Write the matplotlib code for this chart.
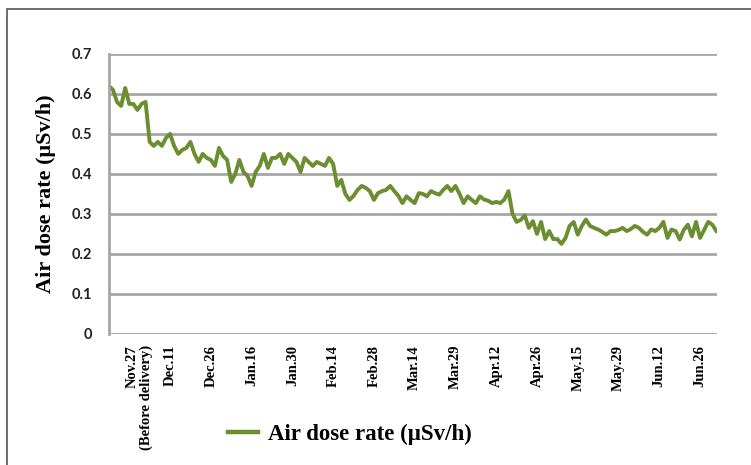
import numpy as np
import matplotlib
matplotlib.use("Agg")
import matplotlib.pyplot as plt
from matplotlib.patches import Rectangle

dose = [
    0.62, 0.61, 0.58, 0.57, 0.615, 0.575, 0.575, 0.56, 0.575, 0.58,
    0.48, 0.47, 0.48, 0.47, 0.49, 0.50, 0.47, 0.45, 0.46, 0.465,
    0.48, 0.45, 0.43, 0.45, 0.44, 0.435, 0.42, 0.465, 0.445, 0.435,
    0.38, 0.40, 0.435, 0.405, 0.395, 0.37, 0.405, 0.42, 0.45, 0.415,
    0.44, 0.44, 0.45, 0.425, 0.45, 0.44, 0.43, 0.405, 0.44, 0.43,
    0.42, 0.43, 0.425, 0.42, 0.44, 0.425, 0.37, 0.385, 0.35, 0.335,
    0.345, 0.36, 0.37, 0.365, 0.357, 0.335, 0.352, 0.357, 0.36, 0.37,
    0.357, 0.345, 0.327, 0.344, 0.335, 0.327, 0.352, 0.35, 0.344, 0.357,
    0.352, 0.348, 0.36, 0.37, 0.357, 0.37, 0.35, 0.327, 0.344, 0.335,
    0.327, 0.344, 0.336, 0.333, 0.327, 0.33, 0.327, 0.336, 0.357, 0.30,
    0.28, 0.285, 0.296, 0.265, 0.282, 0.25, 0.28, 0.237, 0.257, 0.237,
    0.237, 0.225, 0.24, 0.27, 0.28, 0.248, 0.27, 0.286, 0.27, 0.265,
    0.261, 0.255, 0.248, 0.257, 0.257, 0.26, 0.265, 0.257, 0.262, 0.27,
    0.265, 0.255, 0.248, 0.261, 0.257, 0.265, 0.28, 0.24, 0.261, 0.257,
    0.236, 0.26, 0.273, 0.244, 0.28, 0.24, 0.26, 0.28, 0.273, 0.257,
]

date_labels = ["Nov.27\n(Before delivery)", "Dec.11", "Dec.26", "Jan.16", "Jan.30",
               "Feb.14", "Feb.28", "Mar.14", "Mar.29", "Apr.12", "Apr.26",
               "May.15", "May.29", "Jun.12", "Jun.26"]
y_ticks = [0, 0.1, 0.2, 0.3, 0.4, 0.5, 0.6, 0.7]
y_ticklabels = ["0", "0.1", "0.2", "0.3", "0.4", "0.5", "0.6", "0.7"]

green = "#6a8e30"
grid_gray = "#a6a6a6"

fig = plt.figure(figsize=(7.51, 4.65), dpi=100)
ax = fig.add_axes([0.145, 0.282, 0.81, 0.602])

x = np.arange(len(dose))
ax.plot(x, dose, color=green, lw=2.8, solid_joinstyle="round",
        label="Air dose rate (μSv/h)")

ax.set_xlim(0, 149.2)
ax.set_ylim(0, 0.7)

# label every 10th reading; first label is two lines so nudge its block
tick_pos = [5 + 10 * k for k in range(len(date_labels))]
tick_pos[0] += 2.5
ax.set_xticks(tick_pos)
ax.set_xticklabels(date_labels, rotation=90, fontsize=10.5, fontweight="bold",
                   family="Liberation Serif", va="top", ha="center",
                   multialignment="right", linespacing=1.1)
ax.tick_params(axis="x", length=0, pad=8)

ax.set_yticks(y_ticks)
ax.set_yticklabels(y_ticklabels, fontsize=10.5, fontweight="bold", family="Lato",
                   color="#222222")
ax.tick_params(axis="y", length=0, pad=12)

ax.yaxis.grid(True, color=grid_gray, lw=2)
ax.set_axisbelow(True)
for s in ["top", "right", "bottom"]:
    ax.spines[s].set_visible(False)
ax.spines["left"].set_color(grid_gray)
ax.spines["left"].set_linewidth(2)

ax.set_ylabel("Air dose rate (μSv/h)", fontsize=16, fontweight="bold",
              family="Liberation Serif")
ax.yaxis.set_label_coords(-0.087, 0.5)

leg = fig.legend(loc="center left", bbox_to_anchor=(0.276, 0.066),
                 frameon=False, handlelength=1.3, handletextpad=0.45,
                 prop={"family": "Liberation Serif", "weight": "bold", "size": 16.5})
leg.get_lines()[0].set_linewidth(3.2)

# outer frame of the chart area
fig.patches.append(Rectangle((7 / 751, -0.05), 1.0, 1 - 9 / 465 + 0.05,
                             transform=fig.transFigure, fill=False,
                             edgecolor="#555555", lw=1.2))

fig.savefig("out.png", dpi=100)
